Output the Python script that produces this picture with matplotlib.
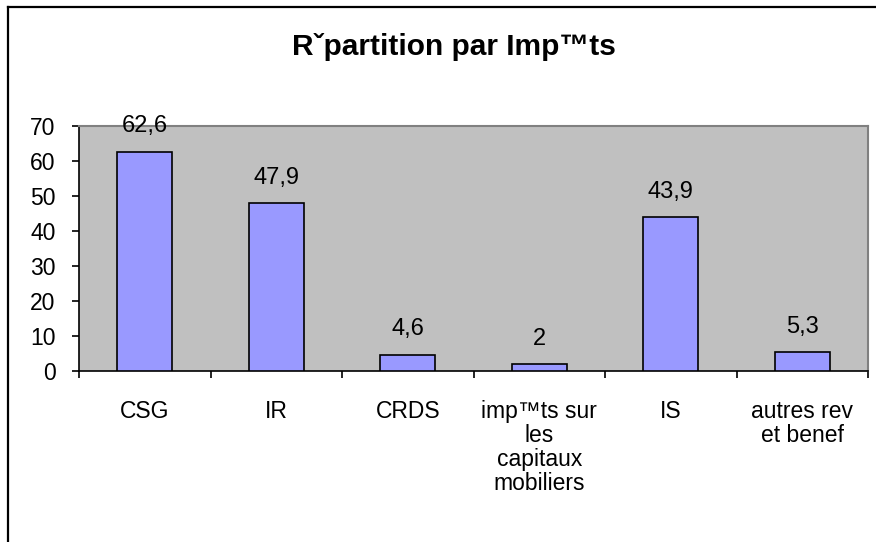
import matplotlib
matplotlib.use("Agg")
import matplotlib.pyplot as plt
from matplotlib.lines import Line2D

categories = ["CSG", "IR", "CRDS", "imp\u2122ts sur\nles\ncapitaux\nmobiliers", "IS", "autres rev\net benef"]
values = [62.6, 47.9, 4.6, 2, 43.9, 5.3]
value_labels = ["62,6", "47,9", "4,6", "2", "43,9", "5,3"]
yticks = [0, 10, 20, 30, 40, 50, 60, 70]
title = "R\u02c7partition par Imp\u2122ts"

plt.rcParams['font.family'] = ['Liberation Sans', 'DejaVu Sans']

W, H = 876, 542
fig = plt.figure(figsize=(W / 100, H / 100), dpi=100)
ax = fig.add_axes([79 / W, 1 - 371 / H, (868 - 79) / W, (371 - 126) / H])
ax.set_facecolor("#C0C0C0")

x = [i + 0.5 for i in range(len(categories))]
ax.bar(x, values, width=0.42, color="#9999FF", edgecolor="black", linewidth=1.2, zorder=3)

for xi, v, lab in zip(x, values, value_labels):
    ax.annotate(lab, (xi, v), xytext=(0, 14), textcoords="offset points",
                ha="center", va="baseline", fontsize=17, color="black",
                annotation_clip=False)

ax.set_xlim(0, len(categories))
ax.set_ylim(0, 70)
ax.set_yticks(yticks)
ax.set_yticklabels([str(t) for t in yticks], fontsize=16.5)
ax.tick_params(axis="y", direction="out", length=5, width=1.2, pad=12, color="black")

ax.set_xticks(x)
ax.set_xticklabels(categories, fontsize=16.5, linespacing=1.05)
ax.tick_params(axis="x", which="major", length=0, pad=21)
ax.set_xticks(range(len(categories) + 1), minor=True)
ax.tick_params(axis="x", which="minor", direction="out", length=5, width=1.2, color="black")

for s in ["top", "right"]:
    ax.spines[s].set_color("#808080")
    ax.spines[s].set_linewidth(1.5)
for s in ["left", "bottom"]:
    ax.spines[s].set_color("black")
    ax.spines[s].set_linewidth(1.2)

fig.text(454 / W, 1 - 55 / H, title, ha="center", va="baseline",
         fontsize=21.5, fontweight="bold")

# outer chart frame (left and top visible)
fig.add_artist(Line2D([8 / W, 8 / W], [0, 1 - 7 / H], color="black", linewidth=1.6))
fig.add_artist(Line2D([8 / W, 1], [1 - 7 / H, 1 - 7 / H], color="black", linewidth=1.6))

fig.savefig("out.png", dpi=100)
